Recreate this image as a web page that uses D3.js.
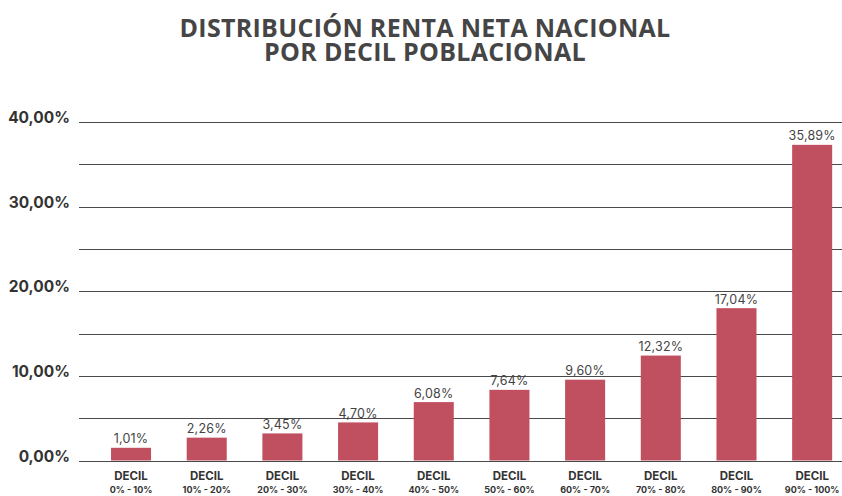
<!DOCTYPE html>
<html>
<head>
<meta charset="utf-8">
<script src="https://cdn.jsdelivr.net/npm/d3@7"></script>
<style>
  body { margin: 0; background: #fff; }
  text { font-family: "Inter", "Open Sans", sans-serif; }
</style>
</head>
<body>
<div id="chart"></div>
<script>
const deciles = ["0% - 10%", "10% - 20%", "20% - 30%", "30% - 40%", "40% - 50%",
                 "50% - 60%", "60% - 70%", "70% - 80%", "80% - 90%", "90% - 100%"]
// bar heights as drawn in the picture
const barValues = [1.5, 2.7, 3.2, 4.5, 6.9, 8.35, 9.55, 12.4, 18.0, 37.3]
// labels printed above the bars
const valueLabels = ["1,01%", "2,26%", "3,45%", "4,70%", "6,08%",
                     "7,64%", "9,60%", "12,32%", "17,04%", "35,89%"]
const gridValues = [0, 5, 10, 15, 20, 25, 30, 35, 40]
const tickValues = [0, 10, 20, 30, 40]
const tickLabels = ["0,00%", "10,00%", "20,00%", "30,00%", "40,00%"]
const titleLines = ["DISTRIBUCIÓN RENTA NETA NACIONAL", "POR DECIL POBLACIONAL"]

const width = 842
const height = 496

const svg = d3.select("#chart")
    .append("svg")
    .attr("width", width)
    .attr("height", height)

const x = d3.scaleBand()
    .domain(deciles)
    .range([93.2, 850])
    .paddingInner(0.471)
    .paddingOuter(0.2355)

const y = d3.scaleLinear()
    .domain([0, 40])
    .range([460.5, 122])

// title
svg.append("g")
    .selectAll("text")
    .data(titleLines)
    .join("text")
    .attr("x", 425)
    .attr("y", (d, i) => 37 + i * 23.5)
    .attr("text-anchor", "middle")
    .attr("fill", "#454545")
    .style("font-family", "'Open Sans', sans-serif")
    .style("font-size", "25px")
    .style("font-weight", 700)
    .style("letter-spacing", "0.3px")
    .text(d => d)

// grid lines
svg.append("g")
    .selectAll("line")
    .data(gridValues)
    .join("line")
    .attr("x1", 79)
    .attr("x2", width)
    .attr("y1", d => Math.round(y(d)) + 0.5)
    .attr("y2", d => Math.round(y(d)) + 0.5)
    .attr("stroke", "#4a4a4a")
    .attr("stroke-width", 1)

// y tick labels
svg.append("g")
    .selectAll("text")
    .data(tickValues)
    .join("text")
    .attr("x", 70)
    .attr("y", d => y(d) + 1)
    .attr("text-anchor", "end")
    .attr("fill", "#333")
    .style("font-size", "15.5px")
    .style("font-weight", 700)
    .text((d, i) => tickLabels[i])

// bars
svg.append("g")
    .selectAll("rect")
    .data(barValues)
    .join("rect")
    .attr("x", (d, i) => x(deciles[i]))
    .attr("y", d => y(d))
    .attr("width", x.bandwidth())
    .attr("height", d => y(0) - y(d))
    .attr("fill", "#c05060")

// value labels
svg.append("g")
    .selectAll("text")
    .data(barValues)
    .join("text")
    .attr("x", (d, i) => x(deciles[i]) + x.bandwidth() / 2)
    .attr("y", d => y(d) - 4.5)
    .attr("text-anchor", "middle")
    .attr("fill", "#444")
    .style("font-size", "12.5px")
    .style("letter-spacing", "0.2px")
    .text((d, i) => valueLabels[i])

// category labels
const cat = svg.append("g")
    .selectAll("g")
    .data(deciles)
    .join("g")
    .attr("transform", d => `translate(${x(d) + x.bandwidth() / 2},0)`)

cat.append("text")
    .attr("y", 480)
    .attr("text-anchor", "middle")
    .attr("fill", "#333")
    .style("font-size", "11.5px")
    .style("font-weight", 700)
    .text("DECIL")

cat.append("text")
    .attr("y", 492.5)
    .attr("text-anchor", "middle")
    .attr("fill", "#333")
    .style("font-size", "9px")
    .style("font-weight", 700)
    .text(d => d)
</script>
</body>
</html>
